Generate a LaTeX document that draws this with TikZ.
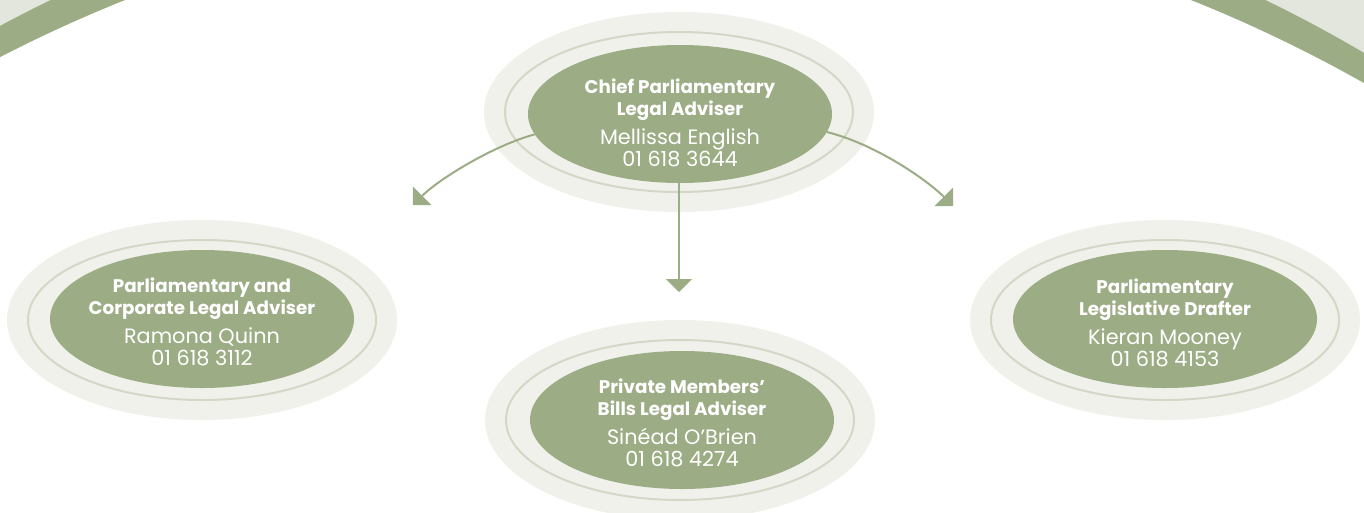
\documentclass[tikz,border=0pt]{standalone}
\usepackage{fontspec}
\setmainfont{Poppins}
\usetikzlibrary{arrows.meta,shapes.geometric}
\definecolor{sage}{HTML}{9CAC84}
\definecolor{band}{HTML}{E3E6DC}
\definecolor{halo}{HTML}{F0F1EB}
\definecolor{ringc}{HTML}{D3D8C6}
\newcommand{\tbold}[1]{{\fontsize{18.3}{22}\bfseries #1}}
\newcommand{\treg}[1]{{\fontsize{20.8}{22}\selectfont #1}}
\tikzset{
  person/.style={ellipse, fill=sage, draw=none, inner sep=0pt,
    minimum width=304pt, minimum height=138pt},
  txt/.style={align=center, text=white, inner sep=0pt,
    font=\fontsize{18}{22}\selectfont},
  conn/.style={draw=sage, line width=2pt,
    -{Triangle[length=13pt,width=26pt]}},
}
\newcommand{\haloring}[1]{%
  \fill[halo] #1 ellipse[x radius=195,y radius=100];
  \draw[ringc,line width=2pt] #1 ellipse[x radius=174,y radius=80];
}
\begin{document}
\begin{tikzpicture}[x=1pt,y=-1pt]
\useasboundingbox (0,0) rectangle (1364,512);
\begin{scope}
  \clip (0,0) rectangle (1364,512);
  \fill[band] (0,0) rectangle (1364,512);
  \fill[sage] (658,1254) circle[radius=1393];
  \fill[white] (658,1334) circle[radius=1436];
  \haloring{(679,112)}
  \haloring{(202,320)}
  \haloring{(1165,320)}
  \haloring{(680,420)}
\end{scope}

\node[person] (chief) at (680,114) {};
\node[person] (pcla) at (202,319) {};
\node[person] (pld) at (1165,319) {};
\node[person] (pmb) at (682,420) {};

\node[txt] (chieft) at (680,123) {\tbold{Chief Parliamentary}\\\tbold{Legal Adviser}\\[7pt]\treg{Mellissa English}\\\treg{01 618 3644}};
\node[txt] (pclat) at (202,322) {\tbold{Parliamentary and}\\\tbold{Corporate Legal Adviser}\\[7pt]\treg{Ramona Quinn}\\\treg{01 618 3112}};
\node[txt] (pldt) at (1165,323) {\tbold{Parliamentary}\\\tbold{Legislative Drafter}\\[7pt]\treg{Kieran Mooney}\\\treg{01 618 4153}};
\node[txt] (pmbt) at (682,423) {\tbold{Private Members’}\\\tbold{Bills Legal Adviser}\\[7pt]\treg{Sinéad O’Brien}\\\treg{01 618 4274}};

\coordinate (tipL) at (413,205);
\coordinate (tipR) at (953,206);
\coordinate (tipD) at (679,292);
\draw[conn] (chief.188) .. controls (495,145) and (440,178) .. (tipL);
\draw[conn] (chief.353) .. controls (875,144) and (926,179) .. (tipR);
\draw[conn] (chief.south -| tipD) -- (tipD);
\end{tikzpicture}
\end{document}
